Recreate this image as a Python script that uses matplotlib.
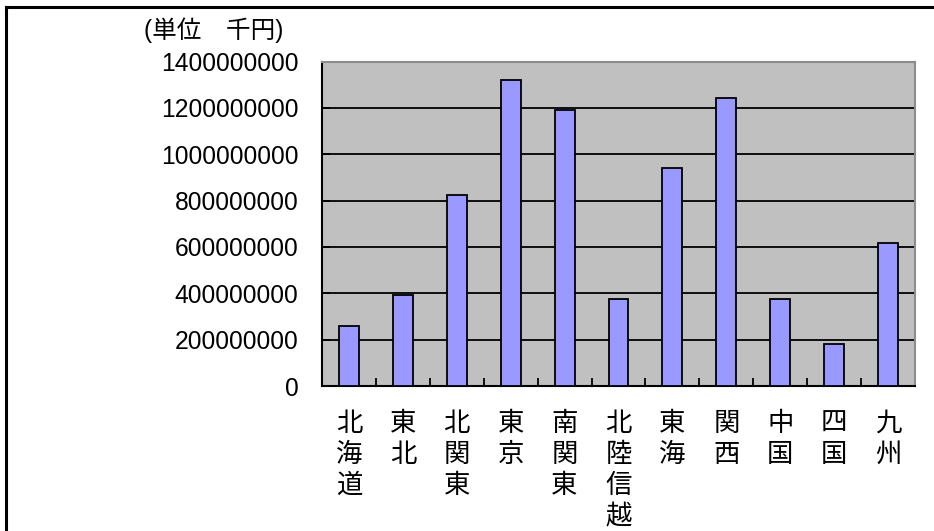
import matplotlib.pyplot as plt
import matplotlib.transforms as mtransforms
from matplotlib.lines import Line2D

plt.rcParams['font.family'] = ['Liberation Sans', 'Noto Sans CJK JP', 'DejaVu Sans']

# 地域別の値 (単位 千円)
regions = ["北海道", "東北", "北関東", "東京", "南関東", "北陸信越",
           "東海", "関西", "中国", "四国", "九州"]
values = [261e6, 391e6, 826e6, 1322e6, 1191e6, 374e6,
          939e6, 1243e6, 374e6, 183e6, 617e6]
yticks = [0, 200000000, 400000000, 600000000, 800000000,
          1000000000, 1200000000, 1400000000]

W, H = 934, 531
fig = plt.figure(figsize=(W / 100, H / 100), dpi=100)
ax = fig.add_axes([322 / W, 1 - 386 / H, (915 - 322) / W, (386 - 61.5) / H])
ax.set_facecolor("#c0c0c0")

x = list(range(len(regions)))
ax.bar(x, values, width=0.37, color="#9999ff", edgecolor="black",
       linewidth=1.3, zorder=3)

ax.set_xlim(-0.5, len(regions) - 0.5)
ax.set_ylim(0, 1400000000)
ax.set_yticks(yticks)
ax.set_yticklabels([str(v) for v in yticks], fontsize=17.7)
ax.yaxis.grid(True, color="black", linewidth=1.3, zorder=1)
ax.set_axisbelow(True)

# 縦書きラベル
ax.set_xticks(x)
labels = ax.set_xticklabels(["\n".join(r) for r in regions], fontsize=19,
                            family=['Noto Sans CJK JP'], va="top",
                            linespacing=1.2)
shift = mtransforms.ScaledTranslation(4 / 100, 0, fig.dpi_scale_trans)
for lab in labels:
    lab.set_transform(lab.get_transform() + shift)
ax.set_xticks([i + 0.5 for i in x[:-1]], minor=True)
ax.tick_params(axis="x", which="major", length=0, pad=17)
ax.tick_params(axis="x", which="minor", direction="in", length=6, width=1.3)
ax.tick_params(axis="y", direction="in", length=6, width=1.3, pad=17)

for side in ["left", "bottom"]:
    ax.spines[side].set_linewidth(1.5)
    ax.spines[side].set_color("black")
for side in ["top", "right"]:
    ax.spines[side].set_linewidth(1.5)
    ax.spines[side].set_color("#8c8c8c")

fig.text(144 / W, 1 - 30 / H, "(単位\u3000千円)", fontsize=17.7,
         ha="left", va="center")

# 外枠 (左と上だけ見える)
fig.add_artist(Line2D([6 / W, 6 / W], [0, 1 - 7 / H], color="black", lw=2.2))
fig.add_artist(Line2D([6 / W, 1], [1 - 7 / H, 1 - 7 / H], color="black", lw=2.2))

fig.savefig("out.png", dpi=100)
